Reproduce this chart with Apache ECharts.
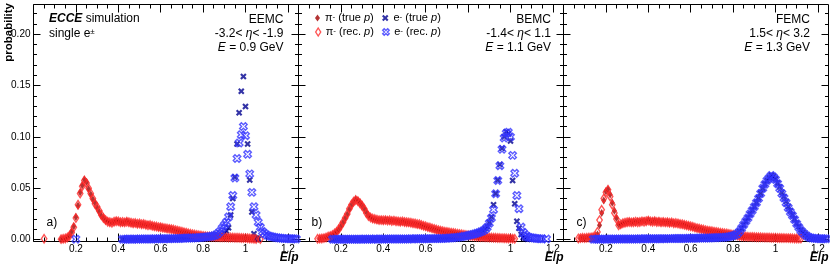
<!DOCTYPE html>
<html><head><meta charset="utf-8">
<script src="https://cdn.jsdelivr.net/npm/echarts@6/dist/echarts.min.js"></script>
<style>html,body{margin:0;padding:0;background:#fff}#c{width:830px;height:267px}</style>
</head><body><div id="c"></div>
<script>
const FF = "'Liberation Sans', Arial, Helvetica, sans-serif";
const BIN = 0.01;
const X_MIN = 0, X_MAX = 1.25, Y_MIN = -0.0018, Y_MAX = 0.2288;
const xTickValues = [0, 0.2, 0.4, 0.6, 0.8, 1.0, 1.2];
const xTickLabels = [0.2, 0.4, 0.6, 0.8, 1.0, 1.2];
const xMinorValues = [0.05,0.1,0.15,0.25,0.3,0.35,0.45,0.5,0.55,0.65,0.7,0.75,0.85,0.9,0.95,1.05,1.1,1.15];
const yTickValues = [0, 0.05, 0.1, 0.15, 0.2];
const yMinorValues = [0.01,0.02,0.03,0.04,0.06,0.07,0.08,0.09,0.11,0.12,0.13,0.14,0.16,0.17,0.18,0.19,0.21,0.22];

const panelNames = ['EEMC', 'BEMC', 'FEMC'];
const etaLabels = ['-3.2< {i|η}< -1.9', '-1.4< {i|η}< 1.1', '1.5< {i|η}< 3.2'];
const energyLabels = ['{i|E} = 0.9 GeV', '{i|E} = 1.1 GeV', '{i|E} = 1.3 GeV'];
const panelLetters = ['a)', 'b)', 'c)'];
const legendLabels = {
  pi_true: '{n|π}{s|-} (true {i|p})',
  e_true: '{n|e}{s|-} (true {i|p})',
  pi_rec: '{n|π}{s|-} (rec. {i|p})',
  e_rec: '{n|e}{s|-} (rec. {i|p})'
};

// ---- EEMC (values per bin of width BIN, first bin index given) ----
const eemcPiTrueStart = 13;
const eemcPiTrue = [.0004,.0007,.0012,.0022,.004,.008,.013,.022,.033,.046,
 .053,.0585,.056,.049,.044,.039,.036,.031,.027,.023,
 .021,.0185,.018,.0168,.017,.0172,.0182,.0175,.0172,.0165,
 .017,.0178,.0168,.0162,.0158,.016,.0152,.0155,.0148,.015,
 .0142,.0145,.0138,.0132,.0128,.0125,.0118,.0122,.0115,.011,
 .0105,.0108,.01,.0095,.009,.0085,.008,.0075,.0071,.0065,
 .006,.0055,.0051,.0048,.0044,.004,.0037,.0035,.0032,.003,
 .0029,.0027,.0026,.0025,.0023,.0023,.0022,.0021,.002,.002,
 .0019,.0018,.0018,.0017,.0016,.0015,.0015,.0014,.0013,.0012,
 .001,.0009,.0007,.0005];
const eemcPiRecStart = 5;
const eemcPiRec = [.0008,null,null,null,null,null,null,null,.0005,.0008,
 .0012,.002,.0035,.007,.012,.021,.034,.045,.052,.0575,
 .055,.05,.045,.04,.035,.032,.028,.024,.021,.019,
 .0175,.017,.0165,.0175,.018,.0178,.017,.0172,.0168,.0175,
 .017,.0165,.016,.0162,.0155,.0158,.015,.0152,.0145,.014,
 .0142,.0135,.013,.0128,.0122,.012,.0115,.0112,.0108,.0105,
 .0102,.0098,.0092,.0088,.0082,.0078,.0072,.0068,.0062,.0058,
 .0053,.005,.0046,.0042,.004,.0036,.0034,.0031,.003,.0028,
 .0027,.0026,.0025,.0024,.0023,.0023,.0022,.0021,.0021,.002,
 .0019,.0019,.0018,.0017,.0016,.0015,.0014,.0012,.001,.0008,
 .0006,null,.0005];
const eemcETrueStart = 42;
const eemcETrue = [.0004,.0005,.0004,.0005,.0005,.0004,.0005,.0006,.0005,.0005,
 .0006,.0005,.0006,.0006,.0005,.0006,.0007,.0006,.0006,.0007,
 .0007,.0007,.0008,.0007,.0008,.0008,.0009,.0008,.0009,.0009,
 .001,.001,.0011,.001,.0011,.0012,.0012,.0013,.0013,.0014,
 .0015,.0016,.0018,.002,.0024,.003,.0038,.0048,.0065,.0085,
 .0115,.024,.04,.061,.093,.1234,.1445,.1588,.1296,.093,
 .058,.027,.0057,.0015,.0006];
const eemcERecStart = 20;
const eemcERec = [.0005,null,null,null,null,null,null,null,null,null,null,
 null,null,null,null,null,null,null,null,null,null,null,
 .0005,.0004,.0005,.0006,.0005,.0005,.0006,.0005,.0006,.0006,
 .0006,.0007,.0006,.0007,.0007,.0008,.0007,.0008,.0008,.0009,
 .0009,.001,.0009,.001,.0011,.0011,.0012,.0012,.0013,.0014,
 .0015,.0015,.0016,.0017,.0018,.0019,.002,.0022,.0024,.0026,
 .0028,.003,.0033,.0038,.0045,.006,.008,.011,.014,.017,
 .022,.032,.043,.06,.079,.094,.102,.11,.101,.083,
 .064,.046,.032,.024,.017,.012,.008,.006,.0045,.0035,
 .003,.0025,.002,.0018,.0015,.0013,.0012,.001,.001,.0009,
 .0008,.0008,.0007];

// ---- BEMC ----
const bemcPiTrueStart = 10;
const bemcPiTrue = [.0009,.0011,.0016,.0019,.0028,.0038,.0042,.0058,.0075,.0098,
 .0128,.0165,.0205,.0245,.0295,.0338,.0368,.0392,.038,.0362,
 .0335,.0302,.0268,.0235,.0218,.0202,.0198,.0192,.0188,.0192,
 .0185,.0192,.0188,.0184,.0186,.0181,.0178,.0176,.0172,.0175,
 .017,.0166,.0164,.0162,.0157,.0154,.0148,.0146,.0138,.0133,
 .0126,.0121,.0114,.0108,.0102,.0095,.009,.0085,.008,.0077,
 .0074,.007,.0066,.0063,.006,.0056,.0053,.005,.0046,.0044,
 .004,.0037,.0034,.0031,.0029,.0027,.0025,.0024,.0022,.0021,
 .002,.0019,.0018,.0017,.0016,.0015,.0014,.0013,.0012,.0011,
 .001,.0009];
const bemcPiRecStart = 9;
const bemcPiRec = [.0008,.001,.0012,.0015,.002,.003,.0035,.0045,.006,.0078,
 .01,.0135,.017,.021,.025,.03,.034,.037,.0385,.0375,
 .0355,.033,.03,.026,.023,.0215,.0205,.02,.0195,.019,
 .019,.0188,.019,.0185,.0188,.0182,.0185,.018,.0178,.0175,
 .0178,.0172,.017,.0168,.0165,.016,.0158,.0152,.015,.0142,
 .0135,.013,.0122,.0118,.011,.0105,.0098,.0092,.0088,.0082,
 .0078,.0075,.0072,.0068,.0065,.0062,.0058,.0055,.0052,.0048,
 .0045,.0042,.0038,.0035,.0032,.003,.0028,.0026,.0025,.0023,
 .0022,.0021,.002,.0019,.0018,.0017,.0016,.0015,.0014,.0013,
 .0012,.0011,.001,.0008];
const bemcETrueStart = 16;
const bemcETrue = [.0005,.0004,.0005,.0005,.0004,.0005,.0005,.0004,.0005,.0005,
 .0004,.0005,.0005,.0006,.0005,.0005,.0006,.0005,.0005,.0006,
 .0005,.0006,.0006,.0005,.0006,.0006,.0007,.0006,.0006,.0007,
 .0007,.0006,.0007,.0007,.0008,.0007,.0008,.0008,.0008,.0009,
 .0008,.0009,.0009,.001,.001,.001,.0011,.0011,.0012,.0012,
 .0013,.0013,.0014,.0015,.0016,.0017,.0019,.002,.0022,.0025,
 .0027,.003,.0034,.0038,.0042,.0047,.0052,.0058,.0064,.0071,
 .008,.009,.0105,.0125,.017,.022,.034,.045,.058,.073,
 .089,.1,.105,.103,.096,.0576,.035,.018,.011,.005,
 .002,.001,.0005];
const bemcERecStart = 16;
const bemcERec = [.0004,.0005,.0004,.0004,.0005,.0004,.0005,.0005,.0004,.0005,
 .0005,.0004,.0005,.0005,.0005,.0006,.0005,.0005,.0006,.0005,
 .0006,.0005,.0006,.0006,.0005,.0006,.0006,.0006,.0007,.0006,
 .0006,.0007,.0007,.0006,.0007,.0007,.0007,.0008,.0007,.0008,
 .0008,.0008,.0009,.0008,.0009,.0009,.001,.001,.001,.0011,
 .0011,.0012,.0012,.0013,.0014,.0015,.0016,.0018,.002,.0022,
 .0025,.0028,.0032,.0036,.004,.0045,.005,.0056,.0062,.0068,
 .0076,.0085,.0098,.012,.016,.021,.029,.0446,.0576,.072,
 .088,.099,.1035,.1046,.1,.082,.0647,.043,.03,.0122,
 .007,.0045,.003,.0022,.0018,.0015,.0012,.001,.0009,.0008,
 null,.0006];

// ---- FEMC ----
const femcPiTrueStart = 8;
const femcPiTrue = [.0014,.0017,.0015,.0019,.0021,.0023,.0026,.0029,.005,.014,
 .026,.038,.047,.049,.044,.036,.028,.021,.015,.0145,
 .0158,.0162,.0168,.0175,.017,.0173,.0168,.0178,.0174,.0176,
 .0182,.0176,.0188,.0176,.0178,.0182,.0174,.0178,.0168,.0174,
 .0166,.0172,.0163,.0166,.0162,.0158,.0156,.0154,.0148,.0146,
 .0138,.0136,.0128,.0122,.0115,.011,.0105,.01,.0095,.009,
 .0086,.0083,.008,.0076,.0073,.007,.0066,.0063,.006,.0058,
 .0054,.005,.0046,.0042,.0038,.0035,.0032,.003,.0029,.0028,
 .0026,.0025,.0024,.0024,.0023,.0022,.0021,.002,.002,.0019,
 .0018,.0018,.0017,.0016,.0016,.0015,.0015,.0014,.0014,.0013,
 .0012,.0011,.001];
const femcPiRecStart = 7;
const femcPiRec = [.0012,.0015,.0018,.0016,.0018,.002,.0022,.0025,.003,.0075,
 .019,.029,.04,.046,.0485,.042,.034,.026,.02,.014,
 .015,.016,.0165,.017,.0172,.0168,.017,.0175,.017,.0172,
 .0178,.0175,.018,.0185,.0178,.0175,.018,.0172,.0175,.017,
 .0172,.0168,.017,.0165,.0168,.016,.0162,.0158,.0152,.015,
 .0145,.014,.0135,.013,.0125,.0118,.0112,.0108,.0102,.0098,
 .0092,.0088,.0085,.0082,.0078,.0075,.0072,.0068,.0065,.0062,
 .006,.0056,.0052,.0048,.0044,.004,.0036,.0034,.0031,.003,
 .0028,.0027,.0026,.0025,.0024,.0023,.0023,.0022,.0021,.002,
 .002,.0019,.0018,.0018,.0017,.0017,.0016,.0016,.0015,.0015,
 .0014,.0013,.0012,.0012,.0011,.001];
const femcETrueStart = 14;
const femcETrue = [.0006,.0005,.0005,.0006,.0006,.0005,.0006,.0006,.0005,.0006,
 .0006,.0007,.0006,.0006,.0007,.0007,.0006,.0007,.0007,.0007,
 .0008,.0007,.0008,.0008,.0007,.0008,.0009,.0008,.0009,.0009,
 .0009,.001,.0009,.001,.001,.001,.0011,.0011,.001,.0011,
 .0012,.0011,.0012,.0012,.0013,.0013,.0014,.0013,.0014,.0015,
 .0015,.0016,.0016,.0017,.0018,.0018,.0019,.002,.002,.0021,
 .0022,.0023,.0024,.0026,.0029,.0033,.004,.0048,.006,.0082,
 .0108,.0142,.0178,.0212,.0248,.0288,.0322,.0362,.0405,.0452,
 .0498,.0542,.0572,.0602,.063,.0615,.0592,.0552,.0512,.0462,
 .0418,.0372,.0322,.0282,.0242,.0202,.016,.0125,.0094,.007,
 .005,.0034,.0024,.0017,.0014,.0012,.001,.0009,.0009,.0008];
const femcERecStart = 14;
const femcERec = [.0005,.0005,.0006,.0005,.0005,.0006,.0005,.0006,.0006,.0005,
 .0006,.0006,.0006,.0007,.0006,.0006,.0007,.0007,.0006,.0007,
 .0007,.0007,.0008,.0007,.0008,.0008,.0008,.0008,.0009,.0008,
 .0009,.0009,.0009,.001,.0009,.001,.001,.001,.0011,.0011,
 .0011,.0012,.0011,.0012,.0012,.0013,.0013,.0013,.0014,.0014,
 .0015,.0015,.0016,.0016,.0017,.0017,.0018,.0019,.0019,.002,
 .0021,.0022,.0023,.0025,.0028,.0032,.0038,.0045,.0057,.008,
 .011,.0145,.018,.021,.025,.0284,.032,.036,.04,.045,
 .05,.054,.0575,.06,.0625,.061,.0585,.0545,.05,.045,
 .0405,.036,.031,.027,.0235,.0195,.0155,.012,.009,.0068,
 .0048,.0032,.0022,.0016,.0013,.0011,.001,.0009,.0009,.0008,
 .0008];

function hist(start, vals) {
  const out = [];
  vals.forEach((v, i) => { if (v != null) out.push([+((start + i) * BIN).toFixed(3), v]); });
  return out;
}

const panelData = [
  {pi_true: hist(eemcPiTrueStart, eemcPiTrue), e_true: hist(eemcETrueStart, eemcETrue), pi_rec: hist(eemcPiRecStart, eemcPiRec), e_rec: hist(eemcERecStart, eemcERec)},
  {pi_true: hist(bemcPiTrueStart, bemcPiTrue), e_true: hist(bemcETrueStart, bemcETrue), pi_rec: hist(bemcPiRecStart, bemcPiRec), e_rec: hist(bemcERecStart, bemcERec)},
  {pi_true: hist(femcPiTrueStart, femcPiTrue), e_true: hist(femcETrueStart, femcETrue), pi_rec: hist(femcPiRecStart, femcPiRec), e_rec: hist(femcERecStart, femcERec)}
];

const XPATH = 'path://M19.19,5.05L14.24,10L19.19,14.95L14.95,19.19L10,14.24L5.05,19.19L0.81,14.95L5.76,10L0.81,5.05L5.05,0.81L10,5.76L14.95,0.81Z';
const styles = {
  pi_true: {symbol: 'diamond', symbolSize: [5, 8], itemStyle: {color: '#a00000', borderWidth: 0}},
  e_true: {symbol: XPATH, symbolSize: 6.5, itemStyle: {color: '#000090', borderWidth: 0}},
  pi_rec: {symbol: 'diamond', symbolSize: [5.5, 8.5], itemStyle: {color: 'rgba(255,255,255,0)', borderColor: '#ff2a2a', borderWidth: 1.4}},
  e_rec: {symbol: XPATH, symbolSize: 7.5, itemStyle: {color: 'rgba(255,255,255,0)', borderColor: '#3333ff', borderWidth: 1.4}}
};
const order = ['pi_true', 'e_true', 'pi_rec', 'e_rec'];

const GRID_LEFT = [33.5, 298.5, 563.5], GRID_W = 265, GRID_TOP = 4.5, GRID_H = 237;
const RIGHT_TEXT_X = [283.5, 551, 810];

const grids = GRID_LEFT.map(l => ({left: l, top: GRID_TOP, width: GRID_W, height: GRID_H, show: true,
  borderColor: '#000', borderWidth: 1, backgroundColor: 'rgba(0,0,0,0)', containLabel: false, outerBoundsMode: 'none'}));

function axis(kind, g, pos, ticks, len, labels, fmt) {
  return {
    type: 'value', gridIndex: g, position: pos,
    min: kind === 'x' ? X_MIN : Y_MIN, max: kind === 'x' ? X_MAX : Y_MAX,
    axisLine: {show: false, onZero: false},
    axisTick: {show: true, inside: true, length: len, customValues: ticks, lineStyle: {color: '#000', width: 1}},
    axisLabel: labels ? {show: true, customValues: labels, formatter: fmt, margin: 3, fontSize: 10, fontFamily: FF, color: '#000'} : {show: false},
    splitLine: {show: false}, minorTick: {show: false}, minorSplitLine: {show: false}, silent: true
  };
}
const xFmt = v => Math.abs(v - 1) < 1e-9 ? '1' : v.toFixed(1);
const yFmt = v => v.toFixed(2);

const xAxes = [], yAxes = [], series = [], graphics = [], legends = [];
for (let g = 0; g < 3; g++) {
  xAxes.push(axis('x', g, 'bottom', xTickValues, 8, xTickLabels, xFmt));
  xAxes.push(axis('x', g, 'bottom', xMinorValues, 4, null));
  xAxes.push(axis('x', g, 'top', xTickValues, 8, null));
  xAxes.push(axis('x', g, 'top', xMinorValues, 4, null));
  yAxes.push(axis('y', g, 'left', yTickValues, 7, g === 0 ? yTickValues : null, yFmt));
  yAxes.push(axis('y', g, 'left', yMinorValues, 3.5, null));
  yAxes.push(axis('y', g, 'right', yTickValues, 7, null));
  yAxes.push(axis('y', g, 'right', yMinorValues, 3.5, null));
  order.forEach(k => {
    series.push(Object.assign({type: 'scatter', name: k, xAxisIndex: 4 * g, yAxisIndex: 4 * g,
      data: panelData[g][k], silent: true, emphasis: {disabled: true}, clip: true}, styles[k]));
  });
  const left = GRID_LEFT[g], right = left + GRID_W;
  const base = {fontSize: 12, fontFamily: FF, fill: '#000'};
  const rich = {i: {fontSize: 12, fontFamily: FF, fontStyle: 'italic', fill: '#000'}};
  graphics.push({type: 'text', x: RIGHT_TEXT_X[g], y: 19.5, style: Object.assign({text: panelNames[g], align: 'right', verticalAlign: 'middle'}, base)});
  graphics.push({type: 'text', x: RIGHT_TEXT_X[g], y: 33.5, style: Object.assign({text: etaLabels[g], rich, align: 'right', verticalAlign: 'middle'}, base)});
  graphics.push({type: 'text', x: RIGHT_TEXT_X[g], y: 47.5, style: Object.assign({text: energyLabels[g], rich, align: 'right', verticalAlign: 'middle'}, base)});
  graphics.push({type: 'text', x: left + 13, y: 222.5, style: Object.assign({text: panelLetters[g], align: 'left', verticalAlign: 'middle'}, base)});
  graphics.push({type: 'text', x: right, y: 258, style: {text: '{bi|E}{b|/}{bi|p}', align: 'right', verticalAlign: 'middle',
    fontSize: 12, fontFamily: FF, fontWeight: 'bold', fill: '#000',
    rich: {bi: {fontSize: 12, fontFamily: FF, fontWeight: 'bold', fontStyle: 'italic', fill: '#000'},
           b: {fontSize: 12, fontFamily: FF, fontWeight: 'bold', fill: '#000'}}}});
}
graphics.push({type: 'text', x: 49, y: 18.5, style: {text: '{bi|ECCE} simulation', align: 'left', verticalAlign: 'middle',
  fontSize: 12, fontFamily: FF, fill: '#000', rich: {bi: {fontSize: 12, fontFamily: FF, fontWeight: 'bold', fontStyle: 'italic', fill: '#000'}}}});
graphics.push({type: 'text', x: 49, y: 33.5, style: {text: 'single e{s|±}', align: 'left', verticalAlign: 'middle',
  fontSize: 12, fontFamily: FF, fill: '#000', rich: {s: {fontSize: 8, fontFamily: FF, fill: '#000', verticalAlign: 'top', padding: [0, 0, 3, 0]}}}});
graphics.push({type: 'text', x: 8.5, y: 3, rotation: Math.PI / 2, style: {text: 'probability', align: 'right', verticalAlign: 'middle',
  fontSize: 11.5, fontFamily: FF, fontWeight: 'bold', fill: '#000'}});

const legendPos = {pi_true: [315, 12.5], e_true: [382, 12.5], pi_rec: [315, 26.5], e_rec: [382, 26.5]};
order.forEach(k => {
  const st = styles[k];
  legends.push({
    data: [{name: k, icon: st.symbol, itemStyle: st.itemStyle}],
    left: legendPos[k][0], top: legendPos[k][1], padding: 0, itemGap: 0,
    itemWidth: k.startsWith('e') ? 6.5 : 5, itemHeight: k === 'pi_rec' ? 8 : (k === 'pi_true' ? 7 : 6.5),
    symbolKeepAspect: false, selectedMode: false,
    formatter: n => legendLabels[n],
    textStyle: {fontSize: 11, fontFamily: FF, color: '#000',
      rich: {n: {fontSize: 11, fontFamily: FF, color: '#000'},
             i: {fontSize: 11, fontFamily: FF, fontStyle: 'italic', color: '#000'},
             s: {fontSize: 8, fontFamily: FF, color: '#000', verticalAlign: 'top', padding: [0, 0, 3, 0]}}}
  });
});

const chart = echarts.init(document.getElementById('c'), null, {renderer: 'canvas'});
chart.setOption({
  animation: false, backgroundColor: '#fff',
  grid: grids, xAxis: xAxes, yAxis: yAxes, series, legend: legends, graphic: graphics
});
</script></body></html>
